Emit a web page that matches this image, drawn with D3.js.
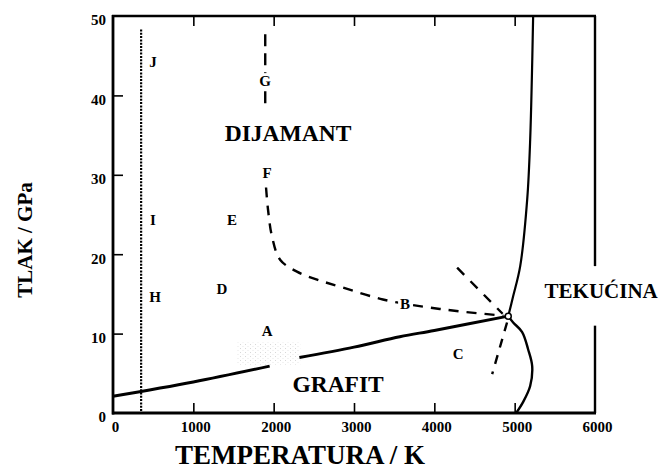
<!DOCTYPE html>
<html>
<head>
<meta charset="utf-8">
<script src="https://cdn.jsdelivr.net/npm/d3@7/dist/d3.min.js"></script>
<style>
  html, body { margin: 0; padding: 0; background: #fff; }
  svg { display: block; }
</style>
</head>
<body>
<svg id="chart" width="659" height="471"></svg>
<script>
// ---- data (temperature in K, pressure in GPa) ----
const xTicks = [0, 1000, 2000, 3000, 4000, 5000, 6000];
const yTicks = [0, 10, 20, 30, 40, 50];

// graphite / diamond equilibrium line (solid, broken near 2000-2400 K)
const graphiteDiamond = [[0, 2.1], [1000, 3.9], [1950, 5.9], null, [2320, 7.0], [3000, 8.3], [3570, 9.6], [4000, 10.4], [4920, 12.2]];
// graphite / liquid melting curve
const graphiteLiquid = [[4920, 12.2], [4981, 11.4], [5093, 10.2], [5168, 8.0], [5218, 5.9], [5193, 3.4], [5106, 1.4], [5019, 0.0]];
// diamond / liquid melting curve
const diamondLiquid = [[4920, 12.2], [4981, 14.7], [5069, 18.5], [5156, 26.9], [5193, 34.4], [5230, 50.0]];
// dashed kinetic boundaries
const dashedUpper = [[1895, 47.7], [1895, 38.6]];
const dashedCurve = [[1905, 28.4], [1930, 25.6], [1980, 22.2], [2080, 19.3], [2290, 17.8], [2540, 16.8], [2860, 15.8], [3360, 14.3], [3860, 13.4], [4320, 12.8], [4860, 12.25]];
const dashedTop = [[4284, 18.3], [4850, 12.5]];
const dashedLow = [[4905, 11.4], [4720, 4.9]];
// dotted line
const dotted = [[350, 48.3], [350, 0]];
// triple point
const triple = [[4920, 12.2]];
// faint stippled (scan) patch: [T0, T1, P0, P1]
const stipple = [1540, 2330, 6.1, 8.9];

// region letters
const letterNames = ["J", "G", "F", "I", "E", "H", "D", "A", "B", "C"];
const letterT = [498, 1893, 1918, 498, 1482, 523, 1357, 1918, 3636, 4296];
const letterP = [44.2, 41.8, 30.2, 24.4, 24.4, 14.6, 15.6, 10.3, 13.7, 7.4];

// phase names
const phaseNames = ["DIJAMANT", "GRAFIT", "TEKUĆINA"];
const phaseT = [2179, 2802, 6077];
const phaseP = [35.2, 3.6, 15.3];
const phaseSize = [23.5, 23.5, 21];

const xTitle = "TEMPERATURA / K";
const yTitle = "TLAK / GPa";

// ---- drawing ----
const FONT = "'Liberation Serif', 'DejaVu Serif', serif";
const svg = d3.select("#chart");
const L = 113, R = 595, T = 16, B = 413;
const x = d3.scaleLinear().domain([0, 6000]).range([L, R]);
const y = d3.scaleLinear().domain([0, 50]).range([B, T]);

const line = d3.line().defined(d => d !== null).x(d => x(d[0])).y(d => y(d[1]));
const smooth = d3.line().defined(d => d !== null).x(d => x(d[0])).y(d => y(d[1])).curve(d3.curveCatmullRom.alpha(0.5));

function styleText(sel, size) {
  return sel.attr("font-family", FONT).attr("font-weight", "bold").attr("font-size", size).attr("fill", "#000");
}

// stipple pattern (very faint)
const defs = svg.append("defs");
const pat = defs.append("pattern").attr("id", "stip").attr("width", 5).attr("height", 4).attr("patternUnits", "userSpaceOnUse");
pat.append("rect").attr("x", 0).attr("y", 0).attr("width", 1).attr("height", 1).attr("fill", "#d8d8d8");
pat.append("rect").attr("x", 2.5).attr("y", 2).attr("width", 1).attr("height", 1).attr("fill", "#e6e6e6");
svg.append("rect").attr("x", x(stipple[0])).attr("y", y(stipple[3]))
  .attr("width", x(stipple[1]) - x(stipple[0])).attr("height", y(stipple[2]) - y(stipple[3]))
  .attr("fill", "url(#stip)");

// bottom axis
const gx = svg.append("g").attr("transform", `translate(0,${B})`)
  .call(d3.axisBottom(x).tickValues(xTicks).tickSize(-10).tickPadding(8).tickFormat(d3.format("d")));
gx.attr("font-family", FONT);
gx.select(".domain").remove();
gx.selectAll(".tick line").attr("stroke", "#000").attr("stroke-width", 1.6)
  .filter(d => d === 0 || d === 6000).remove();
styleText(gx.selectAll(".tick text"), 15).attr("dx", 2);

// top axis (ticks only)
const gt = svg.append("g").attr("transform", `translate(0,${T})`)
  .call(d3.axisTop(x).tickValues(xTicks.slice(1, -1)).tickSize(-10).tickFormat(""));
gt.select(".domain").remove();
gt.selectAll(".tick line").attr("stroke", "#000").attr("stroke-width", 1.6);

// left axis
const gy = svg.append("g").attr("transform", `translate(${L},0)`)
  .call(d3.axisLeft(y).tickValues(yTicks).tickSize(-10).tickPadding(7).tickFormat(d3.format("d")));
gy.attr("font-family", FONT);
gy.select(".domain").remove();
gy.selectAll(".tick line").attr("stroke", "#000").attr("stroke-width", 1.6)
  .filter(d => d === 0 || d === 50).remove();
styleText(gy.selectAll(".tick text"), 15).attr("y", 4);

// frame
const frame = svg.append("g").attr("stroke", "#000").attr("fill", "none");
frame.append("line").attr("x1", L).attr("x2", L).attr("y1", T - 1).attr("y2", B + 1.5).attr("stroke-width", 2.8);
frame.append("line").attr("x1", L - 1).attr("x2", R + 1).attr("y1", B).attr("y2", B).attr("stroke-width", 2.8);
frame.append("line").attr("x1", L - 1).attr("x2", R + 1).attr("y1", T).attr("y2", T).attr("stroke-width", 2.4);
frame.append("line").attr("x1", R).attr("x2", R).attr("y1", T).attr("y2", y(18.5)).attr("stroke-width", 2.4);
frame.append("line").attr("x1", R).attr("x2", R).attr("y1", y(11)).attr("y2", B).attr("stroke-width", 2.4);

// dotted line
svg.append("path").datum(dotted).attr("d", line)
  .attr("fill", "none").attr("stroke", "#000").attr("stroke-width", 2.2).attr("stroke-dasharray", "2,1.3");

// dashed lines
const dashG = svg.append("g").attr("fill", "none").attr("stroke", "#000").attr("stroke-width", 2.4);
dashG.append("path").datum(dashedUpper).attr("d", line).attr("stroke-dasharray", "12,7");
dashG.append("path").datum(dashedCurve).attr("d", smooth).attr("stroke-dasharray", "10,8");
dashG.append("path").datum(dashedTop).attr("d", line).attr("stroke-dasharray", "10,9");
dashG.append("path").datum(dashedLow).attr("d", line).attr("stroke-dasharray", "9,8");

// solid phase boundaries
svg.append("path").datum(graphiteDiamond).attr("d", smooth)
  .attr("fill", "none").attr("stroke", "#000").attr("stroke-width", 3);
svg.append("path").datum(graphiteLiquid).attr("d", smooth)
  .attr("fill", "none").attr("stroke", "#000").attr("stroke-width", 2.4);
svg.append("path").datum(diamondLiquid).attr("d", smooth)
  .attr("fill", "none").attr("stroke", "#000").attr("stroke-width", 2.2);

// triple point
svg.selectAll("circle.tp").data(triple).join("circle").attr("class", "tp")
  .attr("cx", d => x(d[0])).attr("cy", d => y(d[1])).attr("r", 3)
  .attr("fill", "#fff").attr("stroke", "#000").attr("stroke-width", 1.5);

// region letters (with white knockout)
const lg = svg.append("g");
letterNames.forEach((name, i) => {
  const cx = x(letterT[i]), cy = y(letterP[i]);
  lg.append("rect").attr("x", cx - 7).attr("y", cy - 8).attr("width", 14).attr("height", 16).attr("fill", "#fff");
  styleText(lg.append("text"), 15).attr("x", cx).attr("y", cy).attr("text-anchor", "middle").attr("dy", "0.35em").text(name);
});

// phase names
phaseNames.forEach((name, i) => {
  styleText(svg.append("text"), phaseSize[i]).attr("x", x(phaseT[i])).attr("y", y(phaseP[i]))
    .attr("text-anchor", "middle").attr("dy", "0.33em").text(name);
});

// axis titles
styleText(svg.append("text"), 27).attr("x", 300).attr("y", 464).attr("text-anchor", "middle").text(xTitle);
styleText(svg.append("text"), 21).attr("transform", "translate(32,240) rotate(-90)").attr("text-anchor", "middle").text(yTitle);
</script>
</body>
</html>
